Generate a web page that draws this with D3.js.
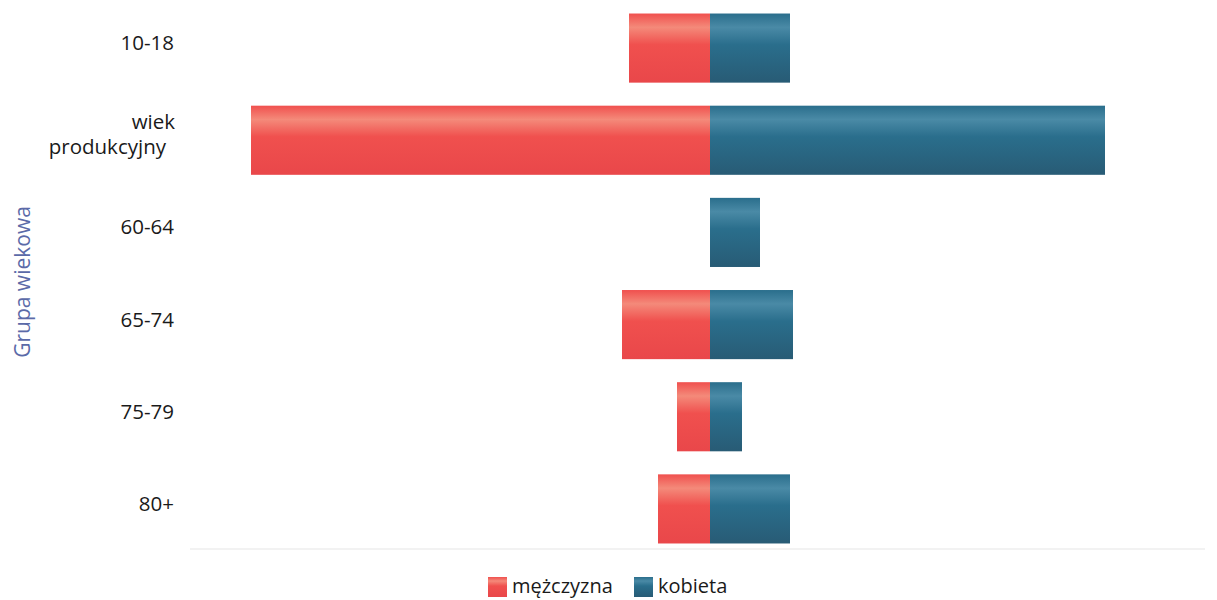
<!DOCTYPE html>
<html><head><meta charset="utf-8">
<script src="https://cdn.jsdelivr.net/npm/d3@7"></script>
<style>body{margin:0;background:#fff;font-family:"Open Sans",sans-serif}</style>
</head><body><svg id="c" width="1217" height="600"></svg>
<script>
const categories = ["10-18", "wiek produkcyjny", "60-64", "65-74", "75-79", "80+"];
const male = [810, 4590, 0, 880, 330, 520];
const female = [800, 3950, 500, 830, 320, 800];
const seriesNames = ["mężczyzna", "kobieta"];

const svg = d3.select("#c");
const defs = svg.append("defs");
function grad(id, top, mid, bot){
  const g = defs.append("linearGradient").attr("id", id).attr("x1",0).attr("x2",0).attr("y1",0).attr("y2",1);
  g.append("stop").attr("offset","0%").attr("stop-color",mid);
  g.append("stop").attr("offset","20%").attr("stop-color",top);
  g.append("stop").attr("offset","45%").attr("stop-color",mid);
  g.append("stop").attr("offset","100%").attr("stop-color",bot);
}
grad("gm", "#f48a7a", "#f0504e", "#e9474a");
grad("gf", "#4a8aa6", "#2a6e8c", "#285b75");

const x = d3.scaleLinear().domain([-5200, 4950]).range([190, 1205]);
const y = d3.scaleBand().domain(categories).range([2, 555]).paddingInner(0.25).paddingOuter(0.125);

// baseline
svg.append("line").attr("x1", 190).attr("x2", 1205).attr("y1", 549).attr("y2", 549)
  .attr("stroke", "#eeeeee").attr("stroke-width", 1.5);

const g = svg.append("g");
g.selectAll("rect.m").data(categories).join("rect").attr("class","m")
  .attr("x", (d,i) => x(-male[i])).attr("width", (d,i) => x(0) - x(-male[i]))
  .attr("y", d => y(d)).attr("height", y.bandwidth()).attr("fill", "url(#gm)");
g.selectAll("rect.f").data(categories).join("rect").attr("class","f")
  .attr("x", x(0)).attr("width", (d,i) => x(female[i]) - x(0))
  .attr("y", d => y(d)).attr("height", y.bandwidth()).attr("fill", "url(#gf)");

// y labels
const lab = svg.append("g").attr("font-size", 20.5).attr("fill", "#1a1a1a");
categories.forEach(c => {
  const cy = y(c) + y.bandwidth()/2 - 5;
  if (c === "wiek produkcyjny") {
    lab.append("text").attr("x", 175).attr("y", cy - 6).attr("text-anchor","end").text("wiek");
    lab.append("text").attr("x", 166).attr("y", cy + 19).attr("text-anchor","end").text("produkcyjny");
  } else {
    lab.append("text").attr("x", 174).attr("y", cy + 7).attr("text-anchor","end").text(c);
  }
});

// axis title
svg.append("text").attr("transform", "translate(30,282) rotate(-90)")
  .attr("text-anchor","middle").attr("font-size", 21).attr("fill", "#5b6aa8").text("Grupa wiekowa");

// legend
const leg = svg.append("g").attr("font-size", 20).attr("fill", "#1a1a1a");
const lx = [488, 634];
seriesNames.forEach((s,i) => {
  leg.append("rect").attr("x", lx[i]).attr("y", 577).attr("width", 19).attr("height", 20)
    .attr("fill", i === 0 ? "url(#gm)" : "url(#gf)");
  leg.append("text").attr("x", lx[i] + 24).attr("y", 593).text(s);
});
</script></body></html>
